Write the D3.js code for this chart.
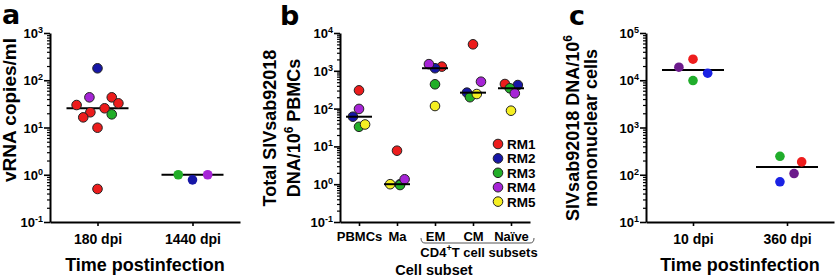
<!DOCTYPE html>
<html>
<head>
  <meta charset="UTF-8">
  <title>SIVsab92018 panels</title>
  <script src="https://d3js.org/d3.v7.min.js"></script>
  <style>
    body { margin: 0; background: #fff; }
    text { font-family: Arial, "Liberation Sans", sans-serif; font-weight: bold; }
  </style>
</head>
<body>
  <script>
    // animal colours
    const animals = ["RM1", "RM2", "RM3", "RM4", "RM5"];
    const colorsAB = { RM1: "#ec1c1c", RM2: "#1616a6", RM3: "#22ae28", RM4: "#a624d6", RM5: "#f5ef22" };
    const colorsC = { RM1: "#ee1d1d", RM2: "#1a22e4", RM3: "#20ad2b", RM4: "#6c1b8c" };

    // panel a : vRNA copies/ml
    const aGroups = ["180 dpi", "1440 dpi"];
    const a180Values = [179, 43.5, 43.5, 32.5, 29.9, 25.5, 21, 16.4, 19, 9.9, 0.5];
    const a180Animal = ["RM2", "RM4", "RM1", "RM1", "RM1", "RM1", "RM1", "RM1", "RM3", "RM1", "RM1"];
    const a180Jitter = [0, -0.085, 0.15, 0.22, -0.22, 0.075, -0.075, -0.15, 0.15, 0, 0];
    const a1440Values = [1.0, 0.78, 1.0];
    const a1440Animal = ["RM3", "RM2", "RM4"];
    const a1440Jitter = [-0.15, 0, 0.16];

    // panel b : total DNA per cell subset (one row per animal)
    const bCells = ["PBMCs", "Ma", "EM", "CM", "Naïve"];
    const bRM1 = [304, 7.7, 1290, 5020, 447];
    const bRM2 = [61, 1.0, 1170, 264, 420];
    const bRM3 = [33, 0.95, 440, 200, 345];
    const bRM4 = [98, 1.35, 1500, 515, 254];
    const bRM5 = [38, 1.0, 117, 243, 88];
    const bJit1 = [0, 0, 0.18, 0, -0.16];
    const bJit2 = [-0.16, 0.08, 0, -0.16, 0.18];
    const bJit3 = [0, 0.08, 0, -0.08, -0.03];
    const bJit4 = [0, 0.2, -0.16, 0.21, 0.1];
    const bJit5 = [0.16, -0.18, 0, 0.1, 0];

    // panel c : DNA per mononuclear cells
    const cGroups = ["10 dpi", "360 dpi"];
    const cRM1 = [27900, 187];
    const cRM2 = [14100, 71];
    const cRM3 = [9860, 246];
    const cRM4 = [18900, 106];
    const cJit1 = [0, 0.156];
    const cJit2 = [0.156, -0.075];
    const cJit3 = [0, -0.075];
    const cJit4 = [-0.15, 0.075];

    const svg = d3.select("body").append("svg")
      .attr("width", 838).attr("height", 278);
    svg.append("rect").attr("width", 838).attr("height", 278).attr("fill", "#fff");

    // log y axis with minor ticks and 10^k labels
    function yAxis(x0, y, lo, hi) {
      const majors = d3.range(lo, hi + 1).map(k => Math.pow(10, k));
      const minors = [];
      for (let k = lo; k < hi; k++)
        for (let m = 2; m <= 9; m++) minors.push(m * Math.pow(10, k));

      svg.append("g")
        .attr("transform", `translate(${x0},0)`)
        .call(d3.axisLeft(y).tickValues(minors).tickSize(3).tickFormat(""))
        .call(g => g.select(".domain").remove())
        .call(g => g.selectAll("line").attr("stroke-width", 1.2));

      svg.append("g")
        .attr("transform", `translate(${x0},0)`)
        .call(d3.axisLeft(y).tickValues(majors).tickSize(6).tickSizeOuter(0).tickFormat(""))
        .call(g => g.select(".domain").attr("stroke-width", 2))
        .call(g => g.selectAll("line").attr("stroke-width", 1.6));

      const lab = svg.append("g").selectAll("text")
        .data(d3.range(lo, hi + 1))
        .join("text")
        .attr("x", x0 - 7)
        .attr("y", k => y(Math.pow(10, k)) + 5)
        .attr("text-anchor", "end")
        .attr("font-size", 13);
      lab.append("tspan").text("10");
      lab.append("tspan").attr("dy", -5).attr("font-size", 9).text(k => k);
    }

    function xAxis(x, y0, size, pad) {
      svg.append("g")
        .attr("transform", `translate(0,${y0})`)
        .call(d3.axisBottom(x).tickSize(4).tickSizeOuter(0).tickPadding(pad))
        .call(g => g.select(".domain").attr("stroke-width", 2))
        .call(g => g.selectAll("line").attr("stroke-width", 1.6))
        .call(g => g.selectAll("text")
          .attr("font-size", size)
          .attr("font-family", "Arial, 'Liberation Sans', sans-serif")
          .attr("font-weight", "bold"));
    }

    function dots(pts, x, y, r, outline) {
      svg.append("g").selectAll("circle")
        .data(pts)
        .join("circle")
        .attr("cx", d => x(d.g) + d.j * x.step())
        .attr("cy", d => y(d.v))
        .attr("r", r)
        .attr("fill", d => d.c)
        .attr("stroke", outline ? "#222" : "none")
        .attr("stroke-width", 1);
    }

    function medians(groups, pts, x, y, half) {
      svg.append("g").selectAll("line")
        .data(groups)
        .join("line")
        .attr("x1", g => x(g) - half)
        .attr("x2", g => x(g) + half)
        .attr("y1", g => y(d3.median(pts.filter(p => p.g === g), p => p.v)))
        .attr("y2", g => y(d3.median(pts.filter(p => p.g === g), p => p.v)))
        .attr("stroke", "#000")
        .attr("stroke-width", 2);
    }

    function yTitle(lines, cx, cy, size) {
      lines.forEach((l, i) => {
        const t = svg.append("text")
          .attr("transform", `translate(${cx[i]},${cy}) rotate(-90)`)
          .attr("text-anchor", "middle")
          .attr("font-size", size || 18);
        l.forEach(part => {
          if (part.sup) t.append("tspan").attr("dy", -7).attr("font-size", 12).text(part.s);
          else t.append("tspan").attr("dy", part.after ? 7 : 0).text(part.s);
        });
      });
    }

    function letter(s, x, y) {
      svg.append("text").attr("x", x).attr("y", y)
        .attr("font-size", 27)
        .style("font-family", "'DejaVu Sans', Arial, sans-serif")
        .text(s);
    }

    // ---------- panel a ----------
    const ya = d3.scaleLog().domain([0.1, 1000]).range([222, 33]);
    const xa = d3.scalePoint().domain(aGroups).range([50, 240]).padding(0.5);
    const aPts = a180Values.map((v, i) => ({ g: aGroups[0], v: v, j: a180Jitter[i], c: colorsAB[a180Animal[i]] }));
    const aPts2 = a1440Values.map((v, i) => ({ g: aGroups[1], v: v, j: a1440Jitter[i], c: colorsAB[a1440Animal[i]] }));
    yAxis(50, ya, -1, 3);
    xAxis(xa, 222, 14, 8);
    medians(aGroups, aPts.concat(aPts2), xa, ya, 31);
    dots(aPts, xa, ya, 4.8, true);
    dots(aPts2, xa, ya, 4.8, false);
    yTitle([[{ s: "vRNA copies/ml" }]], [16], 110, 19);
    svg.append("text").attr("x", 145).attr("y", 271).attr("text-anchor", "middle")
      .attr("font-size", 18).text("Time postinfection");
    letter("a", 2, 24);

    // ---------- panel b ----------
    const yb = d3.scaleLog().domain([0.1, 10000]).range([222, 33]);
    const xb = d3.scalePoint().domain(bCells).range([340, 530]).padding(0.5);
    const bRows = [bRM1, bRM2, bRM3, bRM4, bRM5];
    const bJits = [bJit1, bJit2, bJit3, bJit4, bJit5];
    const bPts = [];
    bCells.forEach((cell, ci) => {
      bRows.forEach((row, ai) => {
        bPts.push({ g: cell, v: row[ci], j: bJits[ai][ci], c: colorsAB[animals[ai]] });
      });
    });
    yAxis(340, yb, -1, 4);
    xAxis(xb, 222, 13, 6);
    dots(bPts, xb, yb, 4.8, true);
    medians(bCells, bPts, xb, yb, 13);

    // legend
    const leg = svg.append("g").selectAll("g")
      .data(animals)
      .join("g")
      .attr("transform", (d, i) => `translate(498,${144 + i * 14.4})`);
    leg.append("circle").attr("r", 4.8).attr("fill", d => colorsAB[d])
      .attr("stroke", "#222").attr("stroke-width", 1);
    leg.append("text").attr("x", 9).attr("y", 5).attr("font-size", 13.5).text(d => d);

    // CD4+ subset bracket
    svg.append("path")
      .attr("d", "M421,238 Q421,243 425,243 L530,243 Q534,243 534,238")
      .attr("fill", "none").attr("stroke", "#555").attr("stroke-width", 1);
    const cd4 = svg.append("text").attr("x", 479).attr("y", 257)
      .attr("text-anchor", "middle").attr("font-size", 13);
    cd4.append("tspan").text("CD4");
    cd4.append("tspan").attr("dy", -6).attr("font-size", 9).text("+");
    cd4.append("tspan").attr("dy", 6).text("T cell subsets");
    svg.append("text").attr("x", 434).attr("y", 274.8).attr("text-anchor", "middle")
      .attr("font-size", 14.5).text("Cell subset");
    yTitle([
      [{ s: "Total SIVsab92018" }],
      [{ s: "DNA/10" }, { s: "6", sup: true }, { s: " PBMCs", after: true }]
    ], [276, 300], 128);
    letter("b", 280, 25);

    // ---------- panel c ----------
    const yc = d3.scaleLog().domain([10, 100000]).range([222, 33]);
    const xc = d3.scalePoint().domain(cGroups).range([646, 834]).padding(0.5);
    const cRows = [cRM1, cRM2, cRM3, cRM4];
    const cJits = [cJit1, cJit2, cJit3, cJit4];
    const cPts = [];
    cGroups.forEach((grp, gi) => {
      cRows.forEach((row, ai) => {
        cPts.push({ g: grp, v: row[gi], j: cJits[ai][gi], c: colorsC[animals[ai]] });
      });
    });
    yAxis(646, yc, 1, 5);
    xAxis(xc, 222, 14, 8);
    medians(cGroups, cPts, xc, yc, 31);
    dots(cPts, xc, yc, 4.8, false);
    yTitle([
      [{ s: "SIVsab92018 DNA/10" }, { s: "6", sup: true }],
      [{ s: "mononuclear cells" }]
    ], [579, 597], 128);
    svg.append("text").attr("x", 740).attr("y", 271).attr("text-anchor", "middle")
      .attr("font-size", 18).text("Time postinfection");
    letter("c", 569, 25);
  </script>
</body>
</html>
